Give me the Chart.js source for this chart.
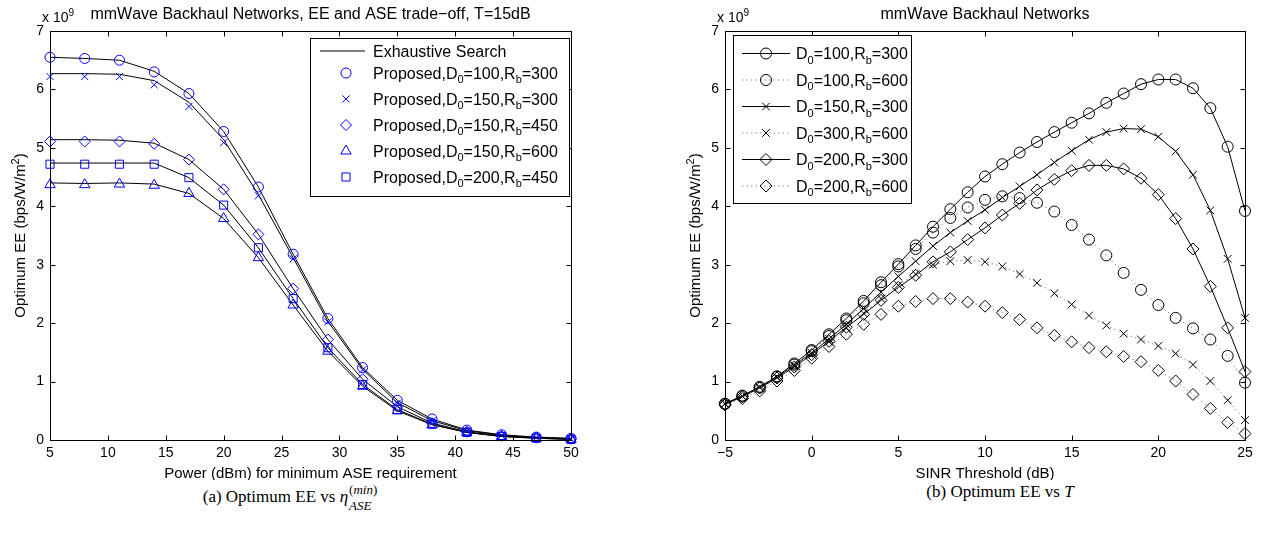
<!DOCTYPE html>
<html>
<head>
<meta charset="utf-8">
<script src="https://cdn.jsdelivr.net/npm/chart.js@4.4.1/dist/chart.umd.min.js"></script>
<style>
  html, body { margin: 0; padding: 0; background: #fff; }
  body { width: 1268px; height: 538px; position: relative; overflow: hidden; }
  .panel { position: absolute; top: 0; width: 634px; height: 480px; }
  .caption {
    position: absolute; top: 482px; transform: translateX(-50%);
    font-family: "Liberation Serif", "DejaVu Serif", serif; font-size: 17px;
    line-height: 20px; color: #000; white-space: nowrap;
  }
  .scripts { display: inline-block; vertical-align: -8px; font-size: 13px; line-height: 16px; margin-left: 1px; }
  .scripts div { display: block; }
</style>
</head>
<body>
<canvas id="eeVsPower" class="panel" style="left:0" width="634" height="480"></canvas>
<canvas id="eeVsSinr" class="panel" style="left:634px" width="634" height="480"></canvas>
<div class="caption" style="left:290px">(a) Optimum EE vs <i>η</i><span class="scripts"><div>(<i>min</i>)</div><div><i>ASE</i></div></span></div>
<div class="caption" style="left:1000px">(b) Optimum EE vs <i>T</i></div>

<script>
// ---- (a) EE vs power for minimum ASE requirement, values in 10^9 bps/W/m^2 ----
const powerDbm = [5, 8, 11, 14, 17, 20, 23, 26, 29, 32, 35, 38, 41, 44, 47, 50];

const exD100Rb300 = [6.55, 6.53, 6.50, 6.31, 5.93, 5.28, 4.33, 3.18, 2.08, 1.24, 0.68, 0.36, 0.17, 0.09, 0.05, 0.03];
const exD150Rb300 = [6.27, 6.27, 6.26, 6.15, 5.78, 5.14, 4.20, 3.12, 2.03, 1.21, 0.64, 0.33, 0.16, 0.08, 0.04, 0.02];
const exD150Rb450 = [5.14, 5.14, 5.13, 5.08, 4.80, 4.29, 3.52, 2.59, 1.72, 1.04, 0.57, 0.29, 0.14, 0.07, 0.04, 0.02];
const exD150Rb600 = [4.40, 4.39, 4.40, 4.38, 4.22, 3.79, 3.12, 2.31, 1.52, 0.92, 0.50, 0.26, 0.13, 0.06, 0.03, 0.01];
const exD200Rb450 = [4.74, 4.74, 4.74, 4.74, 4.49, 4.02, 3.29, 2.42, 1.58, 0.95, 0.52, 0.27, 0.13, 0.06, 0.03, 0.01];

const prD100Rb300 = [6.55, 6.53, 6.50, 6.30, 5.93, 5.28, 4.33, 3.18, 2.08, 1.24, 0.68, 0.36, 0.17, 0.09, 0.05, 0.03];
const prD150Rb300 = [6.22, 6.22, 6.22, 6.08, 5.71, 5.09, 4.18, 3.10, 2.02, 1.20, 0.63, 0.33, 0.16, 0.08, 0.04, 0.02];
const prD150Rb450 = [5.11, 5.11, 5.11, 5.07, 4.80, 4.29, 3.52, 2.59, 1.72, 1.04, 0.57, 0.29, 0.14, 0.07, 0.04, 0.02];
const prD150Rb600 = [4.37, 4.37, 4.38, 4.36, 4.22, 3.79, 3.12, 2.31, 1.52, 0.92, 0.50, 0.26, 0.13, 0.06, 0.03, 0.01];
const prD200Rb450 = [4.72, 4.72, 4.72, 4.72, 4.49, 4.02, 3.29, 2.42, 1.58, 0.95, 0.52, 0.27, 0.13, 0.06, 0.03, 0.01];

// ---- (b) EE vs SINR threshold ----
const sinrDb = [-5, -4, -3, -2, -1, 0, 1, 2, 3, 4, 5, 6, 7, 8, 9, 10, 11, 12, 13, 14, 15, 16, 17, 18, 19, 20, 21, 22, 23, 24, 25];

const eeD100Rb300 = [0.62, 0.76, 0.91, 1.09, 1.31, 1.54, 1.81, 2.08, 2.38, 2.70, 3.01, 3.33, 3.65, 3.95, 4.24, 4.51, 4.72, 4.92, 5.10, 5.27, 5.43, 5.59, 5.77, 5.93, 6.09, 6.17, 6.17, 6.02, 5.68, 5.02, 3.92];
const eeD100Rb600 = [0.62, 0.75, 0.90, 1.08, 1.29, 1.52, 1.78, 2.05, 2.34, 2.65, 2.97, 3.27, 3.55, 3.80, 3.98, 4.11, 4.17, 4.14, 4.06, 3.91, 3.68, 3.43, 3.16, 2.86, 2.57, 2.31, 2.09, 1.91, 1.72, 1.44, 0.98];
const eeD150Rb300 = [0.62, 0.75, 0.90, 1.08, 1.28, 1.49, 1.73, 1.98, 2.25, 2.53, 2.80, 3.06, 3.32, 3.55, 3.75, 3.94, 4.15, 4.34, 4.54, 4.75, 4.95, 5.14, 5.27, 5.33, 5.32, 5.19, 4.94, 4.54, 3.93, 3.10, 2.09];
const eeD300Rb600 = [0.62, 0.75, 0.90, 1.07, 1.26, 1.46, 1.68, 1.92, 2.17, 2.42, 2.65, 2.84, 3.00, 3.06, 3.08, 3.05, 2.97, 2.84, 2.69, 2.51, 2.32, 2.13, 1.96, 1.82, 1.72, 1.61, 1.48, 1.29, 1.01, 0.68, 0.34];
const eeD200Rb300 = [0.61, 0.74, 0.89, 1.06, 1.25, 1.46, 1.69, 1.93, 2.15, 2.39, 2.61, 2.82, 3.05, 3.22, 3.43, 3.63, 3.85, 4.05, 4.28, 4.46, 4.61, 4.70, 4.70, 4.64, 4.48, 4.20, 3.79, 3.27, 2.63, 1.92, 1.17];
const eeD200Rb600 = [0.60, 0.71, 0.84, 1.01, 1.19, 1.40, 1.60, 1.81, 1.98, 2.15, 2.29, 2.37, 2.42, 2.42, 2.36, 2.29, 2.18, 2.06, 1.92, 1.79, 1.68, 1.58, 1.51, 1.43, 1.34, 1.19, 1.01, 0.78, 0.54, 0.30, 0.11];

const FONT = '"Liberation Sans", Arial, Helvetica, sans-serif';
const BLUE = '#0000ff';

const pts = (xs, ys) => xs.map((x, i) => ({ x, y: ys[i] }));

// '_c' = subscript char, '^c' = superscript char
function richRun(ctx, text, x, y, size, draw) {
  let cx = x;
  const small = Math.round(size * 0.7);
  for (let i = 0; i < text.length; i++) {
    let ch = text[i];
    let dy = 0;
    let sz = size;
    if ((ch === '_' || ch === '^') && i + 1 < text.length) {
      dy = ch === '_' ? size * 0.3 : -size * 0.42;
      ch = text[++i];
      sz = small;
    }
    ctx.font = sz + 'px ' + FONT;
    if (draw) ctx.fillText(ch, cx, y + dy);
    cx += ctx.measureText(ch).width;
  }
  return cx - x;
}
const richWidth = (ctx, t, s) => richRun(ctx, t, 0, 0, s, false);

function hline(ctx, x0, y0, x1, y1) {
  ctx.beginPath();
  ctx.moveTo(x0, y0);
  ctx.lineTo(x1, y1);
  ctx.stroke();
}

// MATLAB-ish box, inward ticks, titles and in-axes legend
const matlabFrame = {
  id: 'matlabFrame',
  afterDraw(chart, args, o) {
    const { ctx, chartArea: a, scales } = chart;
    const L = Math.round(a.left) + 0.5, R = Math.round(a.right) + 0.5;
    const T = Math.round(a.top) + 0.5, B = Math.round(a.bottom) + 0.5;
    ctx.save();
    ctx.strokeStyle = '#000';
    ctx.lineWidth = 1;
    ctx.strokeRect(L, T, R - L, B - T);
    const tl = 5;
    scales.x.ticks.forEach(t => {
      const px = Math.round(scales.x.getPixelForValue(t.value)) + 0.5;
      hline(ctx, px, B, px, B - tl);
      hline(ctx, px, T, px, T + tl);
    });
    scales.y.ticks.forEach(t => {
      const py = Math.round(scales.y.getPixelForValue(t.value)) + 0.5;
      hline(ctx, L, py, L + tl, py);
      hline(ctx, R, py, R - tl, py);
    });

    ctx.fillStyle = '#000';
    ctx.textBaseline = 'alphabetic';
    ctx.textAlign = 'left';
    const cx = (a.left + a.right) / 2;
    // title
    let w = richWidth(ctx, o.title, 16);
    richRun(ctx, o.title, cx - w / 2, 19, 16, true);
    // exponent
    richRun(ctx, 'x 10^9', a.left - 8, 22, 14, true);
    // x label
    w = richWidth(ctx, o.xLabel, 15);
    richRun(ctx, o.xLabel, cx - w / 2, a.bottom + 38, 15, true);
    // y label
    w = richWidth(ctx, o.yLabel, 15);
    ctx.save();
    ctx.translate(a.left - 25, (a.top + a.bottom) / 2);
    ctx.rotate(-Math.PI / 2);
    richRun(ctx, o.yLabel, -w / 2, 0, 15, true);
    ctx.restore();

    // legend
    const lg = o.legend;
    const items = chart.data.datasets.filter(d => d.label);
    ctx.fillStyle = '#fff';
    ctx.fillRect(lg.x, lg.y, lg.w, lg.h);
    ctx.strokeRect(lg.x + 0.5, lg.y + 0.5, lg.w, lg.h);
    items.forEach((d, i) => {
      const cy = lg.rows[i];
      if (d.showLine) {
        ctx.save();
        ctx.strokeStyle = d.borderColor;
        ctx.setLineDash(d.borderDash || []);
        hline(ctx, lg.lineX0, cy, lg.lineX1, cy);
        ctx.restore();
      }
      if (d.pointRadius > 0) {
        ctx.save();
        ctx.strokeStyle = d.pointBorderColor;
        ctx.fillStyle = 'rgba(0,0,0,0)';
        ctx.lineWidth = 1;
        Chart.helpers.drawPoint(ctx, { pointStyle: d.pointStyle, radius: d.pointRadius, rotation: 0, borderWidth: 1 }, lg.markerX, cy);
        ctx.restore();
      }
      ctx.fillStyle = '#000';
      richRun(ctx, d.label, lg.textX, cy + 5.5, 16, true);
    });
    ctx.restore();
  }
};

function axes(xMin, xMax, xFitH, yFitW) {
  const tickFont = { family: FONT, size: 14 };
  return {
    x: {
      type: 'linear', min: xMin, max: xMax,
      ticks: { stepSize: 5, font: tickFont, color: '#000', padding: 5, maxRotation: 0, autoSkip: false,
        callback: v => String(v).replace('-', '\u2212') },
      grid: { display: false, drawTicks: false },
      border: { display: false },
      afterFit: s => { s.height = xFitH; }
    },
    y: {
      type: 'linear', min: 0, max: 7,
      ticks: { stepSize: 1, font: tickFont, color: '#000', padding: 6 },
      grid: { display: false, drawTicks: false },
      border: { display: false },
      afterFit: s => { s.width = yFitW; }
    }
  };
}

function exhaustive(ys, label) {
  return { label, data: pts(powerDbm, ys), showLine: true, borderColor: '#000', borderWidth: 1,
    pointRadius: 0, order: 2, clip: false };
}
function proposed(ys, label, style, r) {
  return { label, data: pts(powerDbm, ys), showLine: false, pointStyle: style, pointRadius: r,
    pointBorderColor: BLUE, pointBackgroundColor: 'rgba(0,0,0,0)', pointBorderWidth: 1,
    borderColor: BLUE, order: 1, clip: false };
}

new Chart(document.getElementById('eeVsPower'), {
  type: 'scatter',
  data: {
    datasets: [
      exhaustive(exD100Rb300, 'Exhaustive Search'),
      exhaustive(exD150Rb300, ''),
      exhaustive(exD150Rb450, ''),
      exhaustive(exD150Rb600, ''),
      exhaustive(exD200Rb450, ''),
      proposed(prD100Rb300, 'Proposed,D_0=100,R_b=300', 'circle', 5),
      proposed(prD150Rb300, 'Proposed,D_0=150,R_b=300', 'crossRot', 5),
      proposed(prD150Rb450, 'Proposed,D_0=150,R_b=450', 'rectRot', 5.5),
      proposed(prD150Rb600, 'Proposed,D_0=150,R_b=600', 'triangle', 6),
      proposed(prD200Rb450, 'Proposed,D_0=200,R_b=450', 'rect', 5.7)
    ]
  },
  options: {
    responsive: false, animation: false, events: [],
    layout: { padding: { left: 0, top: 31, right: 63, bottom: 0 } },
    scales: axes(5, 50, 40, 50),
    plugins: {
      legend: { display: false }, tooltip: { enabled: false },
      matlabFrame: {
        title: 'mmWave Backhaul Networks, EE and ASE trade\u2212off, T=15dB',
        xLabel: 'Power (dBm) for minimum ASE requirement',
        yLabel: 'Optimum EE (bps/W/m^2)',
        legend: { x: 310, y: 38, w: 259, h: 158, rows: [51, 73, 99, 125, 151, 177],
          lineX0: 320, lineX1: 365, markerX: 346, textX: 373 }
      }
    }
  },
  plugins: [matlabFrame]
});

function sinrSeries(ys, label, style, r, dotted) {
  return { label, data: pts(sinrDb, ys), showLine: true,
    borderColor: dotted ? '#8a8a8a' : '#000', borderWidth: 1, borderDash: dotted ? [1.5, 3] : [],
    pointStyle: style, pointRadius: r, pointBorderColor: '#000',
    pointBackgroundColor: 'rgba(0,0,0,0)', pointBorderWidth: 1, clip: false };
}

new Chart(document.getElementById('eeVsSinr'), {
  type: 'scatter',
  data: {
    datasets: [
      sinrSeries(eeD100Rb300, 'D_0=100,R_b=300', 'circle', 5.5, false),
      sinrSeries(eeD100Rb600, 'D_0=100,R_b=600', 'circle', 5.5, true),
      sinrSeries(eeD150Rb300, 'D_0=150,R_b=300', 'crossRot', 5.5, false),
      sinrSeries(eeD300Rb600, 'D_0=300,R_b=600', 'crossRot', 5.5, true),
      sinrSeries(eeD200Rb300, 'D_0=200,R_b=300', 'rectRot', 6, false),
      sinrSeries(eeD200Rb600, 'D_0=200,R_b=600', 'rectRot', 6, true)
    ]
  },
  options: {
    responsive: false, animation: false, events: [],
    layout: { padding: { left: 0, top: 31, right: 23, bottom: 0 } },
    scales: axes(-5, 25, 40, 91),
    plugins: {
      legend: { display: false }, tooltip: { enabled: false },
      matlabFrame: {
        title: 'mmWave Backhaul Networks',
        xLabel: 'SINR Threshold (dB)',
        yLabel: 'Optimum EE (bps/W/m^2)',
        legend: { x: 99, y: 35, w: 178, h: 168, rows: [53.5, 80, 106.5, 133, 159.5, 186],
          lineX0: 108, lineX1: 156, markerX: 132, textX: 162 }
      }
    }
  },
  plugins: [matlabFrame]
});
</script>
</body>
</html>
